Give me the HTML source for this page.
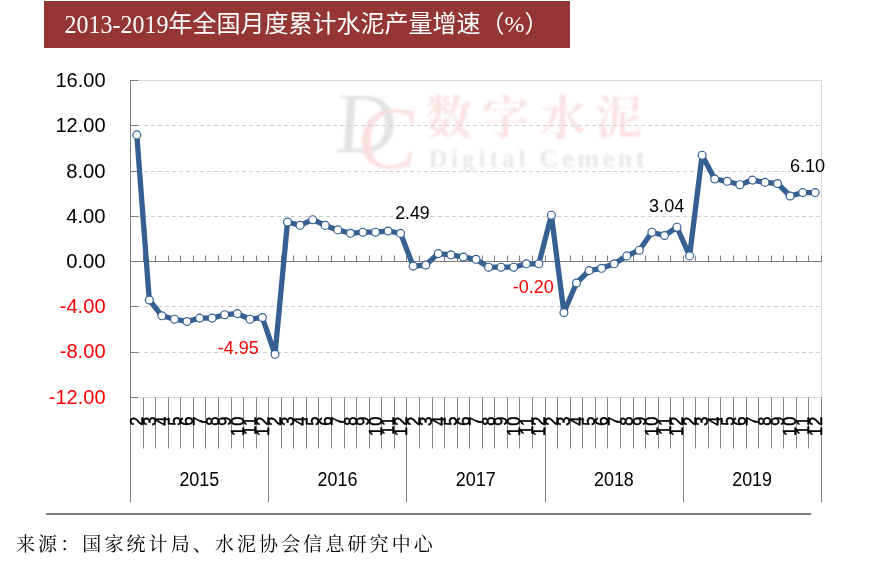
<!DOCTYPE html>
<html lang="zh-CN">
<head>
<meta charset="utf-8">
<title>2013-2019年全国月度累计水泥产量增速（%）</title>
<style>
html,body{margin:0;padding:0;background:#fff;}
body{width:870px;height:569px;overflow:hidden;position:relative;font-family:"Liberation Sans","Noto Sans CJK SC",sans-serif;}
#banner{position:absolute;left:44px;top:1px;width:526px;height:47px;background:#943634;}
#title{position:absolute;left:64.6px;top:4px;height:40px;line-height:40px;white-space:nowrap;color:#fff;font-size:24px;font-family:"Liberation Serif","Noto Sans CJK SC",sans-serif;}
#source{position:absolute;left:16px;top:531px;height:28px;line-height:28px;white-space:nowrap;color:#000;font-size:19px;letter-spacing:3.1px;font-family:"Liberation Serif","Noto Serif CJK SC",serif;font-weight:400;}
#rule{position:absolute;left:46px;top:513px;width:765px;height:2px;background:#7f7f7f;}
svg{position:absolute;left:0;top:0;}
.ax{font-family:"Liberation Sans",sans-serif;font-size:19.5px;}
.dl{font-family:"Liberation Sans",sans-serif;font-size:18px;}
.mo{font-family:"Liberation Sans",sans-serif;font-size:18.2px;fill:#000;stroke:#000;stroke-width:0.55;}
.yr{font-family:"Liberation Sans",sans-serif;font-size:19.4px;fill:#000;}
</style>
</head>
<body>
<div id="banner"></div>
<div id="title"><span style="display:inline-block;transform:translateY(1px) scaleY(1.015);transform-origin:0 28.1px;">2013-2019</span>年全国月度累计水泥产量增速（%）</div>
<div id="rule"></div>
<div id="source">来源：国家统计局、水泥协会信息研究中心</div>
<svg width="870" height="569" viewBox="0 0 870 569">

<g id="wm">
<text transform="translate(338 152.5) skewX(6)" font-family="Liberation Serif,serif" font-style="italic" font-size="86" fill="#e3e3e3" textLength="60" lengthAdjust="spacingAndGlyphs" style="filter:blur(0.9px)">D</text>
<text transform="translate(359 167.5) skewX(5)" font-family="Liberation Serif,serif" font-style="italic" font-size="88" fill="#fbdddd" fill-opacity="0.9" textLength="59" lengthAdjust="spacingAndGlyphs" style="filter:blur(0.9px)">C</text>
<text x="425" y="134" font-family="Noto Serif CJK SC,serif" font-weight="700" font-size="47" fill="#fbe3e3" style="filter:blur(0.9px)">数</text>
<text x="482" y="134" font-family="Noto Serif CJK SC,serif" font-weight="700" font-size="47" fill="#fbe3e3" style="filter:blur(0.9px)">字</text>
<text x="539" y="134" font-family="Noto Serif CJK SC,serif" font-weight="700" font-size="47" fill="#fbe3e3" style="filter:blur(0.9px)">水</text>
<text x="595" y="134" font-family="Noto Serif CJK SC,serif" font-weight="700" font-size="47" fill="#fbe3e3" style="filter:blur(0.9px)">泥</text>
<text x="428.5" y="167" font-family="Liberation Serif,serif" font-weight="700" font-size="26" fill="#e8e8e8" textLength="216" lengthAdjust="spacing" style="filter:blur(0.9px)">Digital Cement</text>
</g>
<path d="M130.5 80.5H821.5V397.5H130.5" fill="none" stroke="#d9d9d9" stroke-width="1"/>
<line x1="130" x2="821" y1="125.5" y2="125.5" stroke="#cfcfcf" stroke-width="1" stroke-dasharray="4 3"/>
<line x1="130" x2="821" y1="171.5" y2="171.5" stroke="#cfcfcf" stroke-width="1" stroke-dasharray="4 3"/>
<line x1="130" x2="821" y1="216.5" y2="216.5" stroke="#cfcfcf" stroke-width="1" stroke-dasharray="4 3"/>
<line x1="130" x2="821" y1="306.5" y2="306.5" stroke="#cfcfcf" stroke-width="1" stroke-dasharray="4 3"/>
<line x1="130" x2="821" y1="352.5" y2="352.5" stroke="#cfcfcf" stroke-width="1" stroke-dasharray="4 3"/>
<path d="M130.5 397.5V502.5M143.5 397.5V448.5M155.5 397.5V448.5M168.5 397.5V448.5M180.5 397.5V448.5M193.5 397.5V448.5M205.5 397.5V448.5M218.5 397.5V448.5M231.5 397.5V448.5M243.5 397.5V448.5M256.5 397.5V448.5M268.5 397.5V502.5M281.5 397.5V448.5M293.5 397.5V448.5M306.5 397.5V448.5M318.5 397.5V448.5M331.5 397.5V448.5M344.5 397.5V448.5M356.5 397.5V448.5M369.5 397.5V448.5M381.5 397.5V448.5M394.5 397.5V448.5M406.5 397.5V502.5M419.5 397.5V448.5M432.5 397.5V448.5M444.5 397.5V448.5M457.5 397.5V448.5M469.5 397.5V448.5M482.5 397.5V448.5M494.5 397.5V448.5M507.5 397.5V448.5M519.5 397.5V448.5M532.5 397.5V448.5M545.5 397.5V502.5M557.5 397.5V448.5M570.5 397.5V448.5M582.5 397.5V448.5M595.5 397.5V448.5M607.5 397.5V448.5M620.5 397.5V448.5M633.5 397.5V448.5M645.5 397.5V448.5M658.5 397.5V448.5M670.5 397.5V448.5M683.5 397.5V502.5M695.5 397.5V448.5M708.5 397.5V448.5M720.5 397.5V448.5M733.5 397.5V448.5M746.5 397.5V448.5M758.5 397.5V448.5M771.5 397.5V448.5M783.5 397.5V448.5M796.5 397.5V448.5M808.5 397.5V448.5M821.5 397.5V502.5" stroke="#858585" stroke-width="1" fill="none"/>
<path d="M130.5 80V398M130.5 80.5H138M130.5 125.5H138M130.5 171.5H138M130.5 216.5H138M130.5 261.5H138M130.5 306.5H138M130.5 352.5H138M130.5 397.5H138" stroke="#7f7f7f" stroke-width="1" fill="none"/>
<path d="M130.5 261.5H822.0M143.5 261.5V255.5M155.5 261.5V255.5M168.5 261.5V255.5M180.5 261.5V255.5M193.5 261.5V255.5M205.5 261.5V255.5M218.5 261.5V255.5M231.5 261.5V255.5M243.5 261.5V255.5M256.5 261.5V255.5M268.5 261.5V255.5M281.5 261.5V255.5M293.5 261.5V255.5M306.5 261.5V255.5M318.5 261.5V255.5M331.5 261.5V255.5M344.5 261.5V255.5M356.5 261.5V255.5M369.5 261.5V255.5M381.5 261.5V255.5M394.5 261.5V255.5M406.5 261.5V255.5M419.5 261.5V255.5M432.5 261.5V255.5M444.5 261.5V255.5M457.5 261.5V255.5M469.5 261.5V255.5M482.5 261.5V255.5M494.5 261.5V255.5M507.5 261.5V255.5M519.5 261.5V255.5M532.5 261.5V255.5M545.5 261.5V255.5M557.5 261.5V255.5M570.5 261.5V255.5M582.5 261.5V255.5M595.5 261.5V255.5M607.5 261.5V255.5M620.5 261.5V255.5M633.5 261.5V255.5M645.5 261.5V255.5M658.5 261.5V255.5M670.5 261.5V255.5M683.5 261.5V255.5M695.5 261.5V255.5M708.5 261.5V255.5M720.5 261.5V255.5M733.5 261.5V255.5M746.5 261.5V255.5M758.5 261.5V255.5M771.5 261.5V255.5M783.5 261.5V255.5M796.5 261.5V255.5M808.5 261.5V255.5M821.5 261.5V255.5" stroke="#7f7f7f" stroke-width="1" fill="none"/>
<text class="ax" x="55.4" y="87.0" fill="#000" textLength="50.2" lengthAdjust="spacingAndGlyphs">16.00</text>
<text class="ax" x="55.4" y="132.2" fill="#000" textLength="50.2" lengthAdjust="spacingAndGlyphs">12.00</text>
<text class="ax" x="66.2" y="177.5" fill="#000" textLength="39.4" lengthAdjust="spacingAndGlyphs">8.00</text>
<text class="ax" x="66.2" y="222.7" fill="#000" textLength="39.4" lengthAdjust="spacingAndGlyphs">4.00</text>
<text class="ax" x="66.2" y="268.0" fill="#000" textLength="39.4" lengthAdjust="spacingAndGlyphs">0.00</text>
<text class="ax" x="59.7" y="313.2" fill="#ff0000" textLength="45.9" lengthAdjust="spacingAndGlyphs">-4.00</text>
<text class="ax" x="59.7" y="358.4" fill="#ff0000" textLength="45.9" lengthAdjust="spacingAndGlyphs">-8.00</text>
<text class="ax" x="48.8" y="403.7" fill="#ff0000" textLength="56.8" lengthAdjust="spacingAndGlyphs">-12.00</text>
<polyline points="136.8,134.9 149.3,300.0 161.9,315.8 174.5,319.2 187.0,321.5 199.6,318.1 212.2,318.1 224.7,314.7 237.3,313.6 249.9,319.2 262.4,317.5 275.0,354.3 287.5,222.0 300.1,225.4 312.7,219.7 325.2,225.4 337.8,229.9 350.4,233.3 362.9,232.2 375.5,232.2 388.1,231.0 400.6,233.4 413.2,266.1 425.7,265.0 438.3,253.6 450.9,254.8 463.4,257.0 476.0,259.3 488.6,267.2 501.1,267.2 513.7,267.2 526.3,263.8 538.8,263.8 551.4,215.2 563.9,312.5 576.5,283.0 589.1,270.6 601.6,268.3 614.2,263.8 626.8,255.9 639.3,250.2 651.9,232.2 664.5,235.5 677.0,227.2 689.6,255.9 702.1,155.2 714.7,179.0 727.3,181.3 739.8,184.7 752.4,180.1 765.0,182.4 777.5,183.5 790.1,196.0 802.7,192.6 815.2,192.6" fill="none" stroke="#366092" stroke-width="5.3" stroke-linejoin="round" stroke-linecap="round"/>
<circle cx="136.8" cy="134.9" r="3.95" fill="#fff" stroke="#366092" stroke-width="1.2"/>
<circle cx="149.3" cy="300.0" r="3.95" fill="#fff" stroke="#366092" stroke-width="1.2"/>
<circle cx="161.9" cy="315.8" r="3.95" fill="#fff" stroke="#366092" stroke-width="1.2"/>
<circle cx="174.5" cy="319.2" r="3.95" fill="#fff" stroke="#366092" stroke-width="1.2"/>
<circle cx="187.0" cy="321.5" r="3.95" fill="#fff" stroke="#366092" stroke-width="1.2"/>
<circle cx="199.6" cy="318.1" r="3.95" fill="#fff" stroke="#366092" stroke-width="1.2"/>
<circle cx="212.2" cy="318.1" r="3.95" fill="#fff" stroke="#366092" stroke-width="1.2"/>
<circle cx="224.7" cy="314.7" r="3.95" fill="#fff" stroke="#366092" stroke-width="1.2"/>
<circle cx="237.3" cy="313.6" r="3.95" fill="#fff" stroke="#366092" stroke-width="1.2"/>
<circle cx="249.9" cy="319.2" r="3.95" fill="#fff" stroke="#366092" stroke-width="1.2"/>
<circle cx="262.4" cy="317.5" r="3.95" fill="#fff" stroke="#366092" stroke-width="1.2"/>
<circle cx="275.0" cy="354.3" r="3.95" fill="#fff" stroke="#366092" stroke-width="1.2"/>
<circle cx="287.5" cy="222.0" r="3.95" fill="#fff" stroke="#366092" stroke-width="1.2"/>
<circle cx="300.1" cy="225.4" r="3.95" fill="#fff" stroke="#366092" stroke-width="1.2"/>
<circle cx="312.7" cy="219.7" r="3.95" fill="#fff" stroke="#366092" stroke-width="1.2"/>
<circle cx="325.2" cy="225.4" r="3.95" fill="#fff" stroke="#366092" stroke-width="1.2"/>
<circle cx="337.8" cy="229.9" r="3.95" fill="#fff" stroke="#366092" stroke-width="1.2"/>
<circle cx="350.4" cy="233.3" r="3.95" fill="#fff" stroke="#366092" stroke-width="1.2"/>
<circle cx="362.9" cy="232.2" r="3.95" fill="#fff" stroke="#366092" stroke-width="1.2"/>
<circle cx="375.5" cy="232.2" r="3.95" fill="#fff" stroke="#366092" stroke-width="1.2"/>
<circle cx="388.1" cy="231.0" r="3.95" fill="#fff" stroke="#366092" stroke-width="1.2"/>
<circle cx="400.6" cy="233.4" r="3.95" fill="#fff" stroke="#366092" stroke-width="1.2"/>
<circle cx="413.2" cy="266.1" r="3.95" fill="#fff" stroke="#366092" stroke-width="1.2"/>
<circle cx="425.7" cy="265.0" r="3.95" fill="#fff" stroke="#366092" stroke-width="1.2"/>
<circle cx="438.3" cy="253.6" r="3.95" fill="#fff" stroke="#366092" stroke-width="1.2"/>
<circle cx="450.9" cy="254.8" r="3.95" fill="#fff" stroke="#366092" stroke-width="1.2"/>
<circle cx="463.4" cy="257.0" r="3.95" fill="#fff" stroke="#366092" stroke-width="1.2"/>
<circle cx="476.0" cy="259.3" r="3.95" fill="#fff" stroke="#366092" stroke-width="1.2"/>
<circle cx="488.6" cy="267.2" r="3.95" fill="#fff" stroke="#366092" stroke-width="1.2"/>
<circle cx="501.1" cy="267.2" r="3.95" fill="#fff" stroke="#366092" stroke-width="1.2"/>
<circle cx="513.7" cy="267.2" r="3.95" fill="#fff" stroke="#366092" stroke-width="1.2"/>
<circle cx="526.3" cy="263.8" r="3.95" fill="#fff" stroke="#366092" stroke-width="1.2"/>
<circle cx="538.8" cy="263.8" r="3.95" fill="#fff" stroke="#366092" stroke-width="1.2"/>
<circle cx="551.4" cy="215.2" r="3.95" fill="#fff" stroke="#366092" stroke-width="1.2"/>
<circle cx="563.9" cy="312.5" r="3.95" fill="#fff" stroke="#366092" stroke-width="1.2"/>
<circle cx="576.5" cy="283.0" r="3.95" fill="#fff" stroke="#366092" stroke-width="1.2"/>
<circle cx="589.1" cy="270.6" r="3.95" fill="#fff" stroke="#366092" stroke-width="1.2"/>
<circle cx="601.6" cy="268.3" r="3.95" fill="#fff" stroke="#366092" stroke-width="1.2"/>
<circle cx="614.2" cy="263.8" r="3.95" fill="#fff" stroke="#366092" stroke-width="1.2"/>
<circle cx="626.8" cy="255.9" r="3.95" fill="#fff" stroke="#366092" stroke-width="1.2"/>
<circle cx="639.3" cy="250.2" r="3.95" fill="#fff" stroke="#366092" stroke-width="1.2"/>
<circle cx="651.9" cy="232.2" r="3.95" fill="#fff" stroke="#366092" stroke-width="1.2"/>
<circle cx="664.5" cy="235.5" r="3.95" fill="#fff" stroke="#366092" stroke-width="1.2"/>
<circle cx="677.0" cy="227.2" r="3.95" fill="#fff" stroke="#366092" stroke-width="1.2"/>
<circle cx="689.6" cy="255.9" r="3.95" fill="#fff" stroke="#366092" stroke-width="1.2"/>
<circle cx="702.1" cy="155.2" r="3.95" fill="#fff" stroke="#366092" stroke-width="1.2"/>
<circle cx="714.7" cy="179.0" r="3.95" fill="#fff" stroke="#366092" stroke-width="1.2"/>
<circle cx="727.3" cy="181.3" r="3.95" fill="#fff" stroke="#366092" stroke-width="1.2"/>
<circle cx="739.8" cy="184.7" r="3.95" fill="#fff" stroke="#366092" stroke-width="1.2"/>
<circle cx="752.4" cy="180.1" r="3.95" fill="#fff" stroke="#366092" stroke-width="1.2"/>
<circle cx="765.0" cy="182.4" r="3.95" fill="#fff" stroke="#366092" stroke-width="1.2"/>
<circle cx="777.5" cy="183.5" r="3.95" fill="#fff" stroke="#366092" stroke-width="1.2"/>
<circle cx="790.1" cy="196.0" r="3.95" fill="#fff" stroke="#366092" stroke-width="1.2"/>
<circle cx="802.7" cy="192.6" r="3.95" fill="#fff" stroke="#366092" stroke-width="1.2"/>
<circle cx="815.2" cy="192.6" r="3.95" fill="#fff" stroke="#366092" stroke-width="1.2"/>
<text class="dl" x="395.2" y="219" fill="#000" textLength="34.5" lengthAdjust="spacingAndGlyphs">2.49</text>
<text class="dl" x="217.8" y="354" fill="#ff0000" textLength="40.8" lengthAdjust="spacingAndGlyphs">-4.95</text>
<text class="dl" x="512.8" y="293" fill="#ff0000" textLength="41.0" lengthAdjust="spacingAndGlyphs">-0.20</text>
<text class="dl" x="649.1" y="212" fill="#000" textLength="35.1" lengthAdjust="spacingAndGlyphs">3.04</text>
<text class="dl" x="789.9" y="172" fill="#000" textLength="35.3" lengthAdjust="spacingAndGlyphs">6.10</text>
<text class="mo" transform="translate(143.1 416.6) rotate(-90) scale(0.9 1)" text-anchor="end">2</text>
<text class="mo" transform="translate(155.6 416.6) rotate(-90) scale(0.9 1)" text-anchor="end">3</text>
<text class="mo" transform="translate(168.2 416.6) rotate(-90) scale(0.9 1)" text-anchor="end">4</text>
<text class="mo" transform="translate(180.8 416.6) rotate(-90) scale(0.9 1)" text-anchor="end">5</text>
<text class="mo" transform="translate(193.3 416.6) rotate(-90) scale(0.9 1)" text-anchor="end">6</text>
<text class="mo" transform="translate(205.9 416.6) rotate(-90) scale(0.9 1)" text-anchor="end">7</text>
<text class="mo" transform="translate(218.5 416.6) rotate(-90) scale(0.9 1)" text-anchor="end">8</text>
<text class="mo" transform="translate(231.0 416.6) rotate(-90) scale(0.9 1)" text-anchor="end">9</text>
<text class="mo" transform="translate(243.6 416.6) rotate(-90) scale(0.9 1)" text-anchor="end" dx="0 1.3">10</text>
<text class="mo" transform="translate(256.2 416.6) rotate(-90) scale(0.9 1)" text-anchor="end" dx="0 1.3">11</text>
<text class="mo" transform="translate(268.7 416.6) rotate(-90) scale(0.9 1)" text-anchor="end" dx="0 1.3">12</text>
<text class="mo" transform="translate(281.3 416.6) rotate(-90) scale(0.9 1)" text-anchor="end">2</text>
<text class="mo" transform="translate(293.8 416.6) rotate(-90) scale(0.9 1)" text-anchor="end">3</text>
<text class="mo" transform="translate(306.4 416.6) rotate(-90) scale(0.9 1)" text-anchor="end">4</text>
<text class="mo" transform="translate(319.0 416.6) rotate(-90) scale(0.9 1)" text-anchor="end">5</text>
<text class="mo" transform="translate(331.5 416.6) rotate(-90) scale(0.9 1)" text-anchor="end">6</text>
<text class="mo" transform="translate(344.1 416.6) rotate(-90) scale(0.9 1)" text-anchor="end">7</text>
<text class="mo" transform="translate(356.7 416.6) rotate(-90) scale(0.9 1)" text-anchor="end">8</text>
<text class="mo" transform="translate(369.2 416.6) rotate(-90) scale(0.9 1)" text-anchor="end">9</text>
<text class="mo" transform="translate(381.8 416.6) rotate(-90) scale(0.9 1)" text-anchor="end" dx="0 1.3">10</text>
<text class="mo" transform="translate(394.4 416.6) rotate(-90) scale(0.9 1)" text-anchor="end" dx="0 1.3">11</text>
<text class="mo" transform="translate(406.9 416.6) rotate(-90) scale(0.9 1)" text-anchor="end" dx="0 1.3">12</text>
<text class="mo" transform="translate(419.5 416.6) rotate(-90) scale(0.9 1)" text-anchor="end">2</text>
<text class="mo" transform="translate(432.0 416.6) rotate(-90) scale(0.9 1)" text-anchor="end">3</text>
<text class="mo" transform="translate(444.6 416.6) rotate(-90) scale(0.9 1)" text-anchor="end">4</text>
<text class="mo" transform="translate(457.2 416.6) rotate(-90) scale(0.9 1)" text-anchor="end">5</text>
<text class="mo" transform="translate(469.7 416.6) rotate(-90) scale(0.9 1)" text-anchor="end">6</text>
<text class="mo" transform="translate(482.3 416.6) rotate(-90) scale(0.9 1)" text-anchor="end">7</text>
<text class="mo" transform="translate(494.9 416.6) rotate(-90) scale(0.9 1)" text-anchor="end">8</text>
<text class="mo" transform="translate(507.4 416.6) rotate(-90) scale(0.9 1)" text-anchor="end">9</text>
<text class="mo" transform="translate(520.0 416.6) rotate(-90) scale(0.9 1)" text-anchor="end" dx="0 1.3">10</text>
<text class="mo" transform="translate(532.6 416.6) rotate(-90) scale(0.9 1)" text-anchor="end" dx="0 1.3">11</text>
<text class="mo" transform="translate(545.1 416.6) rotate(-90) scale(0.9 1)" text-anchor="end" dx="0 1.3">12</text>
<text class="mo" transform="translate(557.7 416.6) rotate(-90) scale(0.9 1)" text-anchor="end">2</text>
<text class="mo" transform="translate(570.2 416.6) rotate(-90) scale(0.9 1)" text-anchor="end">3</text>
<text class="mo" transform="translate(582.8 416.6) rotate(-90) scale(0.9 1)" text-anchor="end">4</text>
<text class="mo" transform="translate(595.4 416.6) rotate(-90) scale(0.9 1)" text-anchor="end">5</text>
<text class="mo" transform="translate(607.9 416.6) rotate(-90) scale(0.9 1)" text-anchor="end">6</text>
<text class="mo" transform="translate(620.5 416.6) rotate(-90) scale(0.9 1)" text-anchor="end">7</text>
<text class="mo" transform="translate(633.1 416.6) rotate(-90) scale(0.9 1)" text-anchor="end">8</text>
<text class="mo" transform="translate(645.6 416.6) rotate(-90) scale(0.9 1)" text-anchor="end">9</text>
<text class="mo" transform="translate(658.2 416.6) rotate(-90) scale(0.9 1)" text-anchor="end" dx="0 1.3">10</text>
<text class="mo" transform="translate(670.8 416.6) rotate(-90) scale(0.9 1)" text-anchor="end" dx="0 1.3">11</text>
<text class="mo" transform="translate(683.3 416.6) rotate(-90) scale(0.9 1)" text-anchor="end" dx="0 1.3">12</text>
<text class="mo" transform="translate(695.9 416.6) rotate(-90) scale(0.9 1)" text-anchor="end">2</text>
<text class="mo" transform="translate(708.4 416.6) rotate(-90) scale(0.9 1)" text-anchor="end">3</text>
<text class="mo" transform="translate(721.0 416.6) rotate(-90) scale(0.9 1)" text-anchor="end">4</text>
<text class="mo" transform="translate(733.6 416.6) rotate(-90) scale(0.9 1)" text-anchor="end">5</text>
<text class="mo" transform="translate(746.1 416.6) rotate(-90) scale(0.9 1)" text-anchor="end">6</text>
<text class="mo" transform="translate(758.7 416.6) rotate(-90) scale(0.9 1)" text-anchor="end">7</text>
<text class="mo" transform="translate(771.3 416.6) rotate(-90) scale(0.9 1)" text-anchor="end">8</text>
<text class="mo" transform="translate(783.8 416.6) rotate(-90) scale(0.9 1)" text-anchor="end">9</text>
<text class="mo" transform="translate(796.4 416.6) rotate(-90) scale(0.9 1)" text-anchor="end" dx="0 1.3">10</text>
<text class="mo" transform="translate(809.0 416.6) rotate(-90) scale(0.9 1)" text-anchor="end" dx="0 1.3">11</text>
<text class="mo" transform="translate(821.5 416.6) rotate(-90) scale(0.9 1)" text-anchor="end" dx="0 1.3">12</text>
<text class="yr" x="179.4" y="486" textLength="39.8" lengthAdjust="spacingAndGlyphs">2015</text>
<text class="yr" x="317.6" y="486" textLength="39.8" lengthAdjust="spacingAndGlyphs">2016</text>
<text class="yr" x="455.8" y="486" textLength="39.8" lengthAdjust="spacingAndGlyphs">2017</text>
<text class="yr" x="594.0" y="486" textLength="39.8" lengthAdjust="spacingAndGlyphs">2018</text>
<text class="yr" x="732.2" y="486" textLength="39.8" lengthAdjust="spacingAndGlyphs">2019</text>
</svg>
</body>
</html>
